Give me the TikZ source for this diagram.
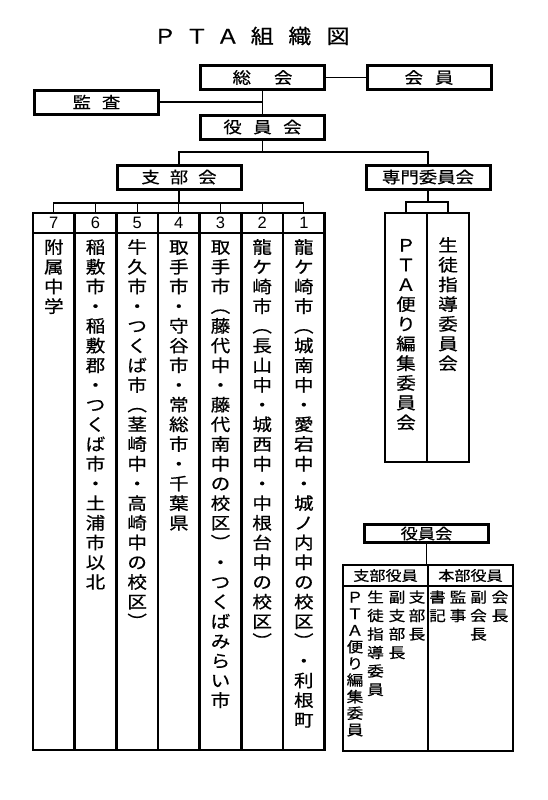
\documentclass[tikz,border=0pt]{standalone}
\usepackage{fontspec}
\setmainfont{Liberation Sans}
\newfontfamily\jp[FakeStretch=1.15,FakeBold=0.6]{Noto Sans CJK JP}
\newcommand\vt[2][19.7pt]{\vtop{\baselineskip=#1\lineskiplimit=-40pt\lineskip=0pt\vtl#2\relax}}
\def\vtl#1{\ifx#1\relax\else\hbox to 0pt{\hss#1\hss}\expandafter\vtl\fi}
\begin{document}
\begin{tikzpicture}[x=1pt,y=-1pt,
  box/.style={draw, line width=3pt, minimum width=124pt, minimum height=24pt, inner sep=0pt, font=\jp\fontsize{16}{19}\selectfont},
  conn/.style={line width=1.2pt},
  cell/.style={draw, line width=2.6pt, inner sep=0pt},
  vtx/.style={anchor=base, inner sep=0pt, font=\jp\fontsize{17}{20}\selectfont},
  vsm/.style={anchor=base, inner sep=0pt, font=\jp\fontsize{14.5}{17}\selectfont}]
\useasboundingbox (0,0) rectangle (547,800);

% title
\node[anchor=west, inner sep=0pt, font=\jp\fontsize{20}{24}\selectfont] (title) at (148,36)
  {\makebox[33.5pt]{Ｐ}\makebox[30.5pt]{Ｔ}\makebox[31.5pt]{Ａ}\makebox[37pt]{組}\makebox[38.5pt]{織}\makebox[38pt]{図}};

% upper boxes
\node[box] (sokai)  at (262.5,77.5) {総\hspace{23pt}会};
\node[box] (kaiin)  at (429,77.5)   {会\hspace{12pt}員};
\node[box] (kansa)  at (96.5,102)   {監\hspace{11pt}査};
\node[box] (yakuin) at (262.5,127)  {役\hspace{11.5pt}員\hspace{11.5pt}会};
\node[box] (shibu)  at (179,177)    {支\hspace{10pt}部\hspace{10pt}会};
\node[box] (senmon) at (428,177)    {専門委員会};

\draw[conn] (sokai.east) -- (kaiin.west);
\draw[conn] (sokai.south) -- (yakuin.north);
\draw[conn] (kansa.east) -- (kansa.east -| sokai.south);
\coordinate (bus0) at (0,152);
\draw[conn] (yakuin.south) -- (yakuin.south |- bus0);
\draw[conn] (shibu.north) |- (bus0 -| senmon.north) -- (senmon.north);

% big table
\foreach \k in {1,...,7} {
  \pgfmathsetmacro\cx{33+41.667*(7-\k)+20.833}
  \node[cell, minimum width=41.67pt, minimum height=20pt] (h\k) at (\cx,223) {\fontsize{16.5}{19}\selectfont\k};
  \node[cell, minimum width=41.67pt, minimum height=517pt] (col\k) at (\cx,491.5) {};
}
\coordinate (bus1) at (0,203);
\draw[conn] (shibu.south) -- (shibu.south |- bus1);
\draw[conn] (h7.north) |- (bus1 -| h1.north) -- (h1.north);
\foreach \k in {2,...,6} \draw[conn] (h\k.north) -- (h\k.north |- bus1);

\coordinate (row1) at (0,253.5);
\node[vtx] (t1) at (h1 |- row1) {\vt{龍ケ崎市︵城南中・愛宕中・城ノ内中の校区︶・利根町}};
\node[vtx] (t2) at (h2 |- row1) {\vt{龍ケ崎市︵長山中・城西中・中根台中の校区︶}};
\node[vtx] (t3) at (h3 |- row1) {\vt{取手市︵藤代中・藤代南中の校区︶・つくばみらい市}};
\node[vtx] (t4) at (h4 |- row1) {\vt{取手市・守谷市・常総市・千葉県}};
\node[vtx] (t5) at (h5 |- row1) {\vt{牛久市・つくば市︵茎崎中・高崎中の校区︶}};
\node[vtx] (t6) at (h6 |- row1) {\vt{稲敷市・稲敷郡・つくば市・土浦市以北}};
\node[vtx] (t7) at (h7 |- row1) {\vt{附属中学}};

% committees
\node[cell, minimum width=42pt, minimum height=249pt] (c1) at (406,337.5) {};
\node[cell, minimum width=42pt, minimum height=249pt] (c2) at (448,337.5) {};
\coordinate (bus2) at (0,202);
\draw[conn] (senmon.south) -- (senmon.south |- bus2);
\draw[conn] (c1.north) |- (bus2 -| c2.north) -- (c2.north);
\coordinate (row2) at (0,251.5);
\node[vtx] (tc1) at (c1 |- row2) {\vt{ＰＴＡ便り編集委員会}};
\node[vtx] (tc2) at (c2 |- row2) {\vt{生徒指導委員会}};

% bottom right
\node[box, minimum height=18pt, font=\jp\fontsize{15}{18}\selectfont] (yk2) at (426.5,533.5) {役員会};
\node[cell, minimum width=85pt, minimum height=21pt, font=\jp\fontsize{14}{17}\selectfont] (sh) at (385.5,575.5) {支部役員};
\node[cell, minimum width=85pt, minimum height=21pt, font=\jp\fontsize{14}{17}\selectfont] (hb) at (470.5,575.5) {本部役員};
\node[cell, minimum width=85pt, minimum height=165pt] (shb) at (385.5,668.5) {};
\node[cell, minimum width=85pt, minimum height=165pt] (hbb) at (470.5,668.5) {};
\draw[conn] (yk2.south) -- (yk2.south |- sh.north);

\node[vsm] (s1) at (355,602.5) {\vt[16.6pt]{ＰＴＡ便り編集委員}};
\node[vsm] (s2) at (375.5,602.5) {\vt[18.5pt]{生徒指導委員}};
\node[vsm] (s3) at (397,602.5) {\vt[18.5pt]{副支部長}};
\node[vsm] (s4) at (417,602.5) {\vt[18.5pt]{支部長}};
\node[vsm] (r1) at (437.5,602.5) {\vt[18.5pt]{書記}};
\node[vsm] (r2) at (458,602.5) {\vt[18.5pt]{監事}};
\node[vsm] (r3) at (478.5,602.5) {\vt[18.5pt]{副会長}};
\node[vsm] (r4) at (500,602.5) {\vt[18.5pt]{会長}};
\end{tikzpicture}
\end{document}
